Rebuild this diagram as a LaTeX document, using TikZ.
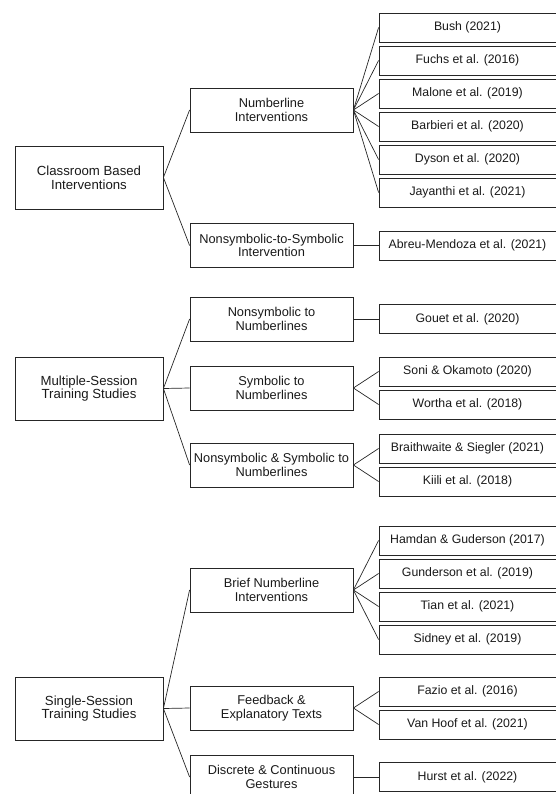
\documentclass[tikz,border=0pt]{standalone}
\usepackage{fontspec}
\setmainfont{Liberation Sans}
\begin{document}
\begin{tikzpicture}[x=1pt,y=-1pt,
  box/.style={draw=black!85,line width=0.8pt,rectangle,inner sep=0pt,align=center,text=black!90},
  lvlone/.style={box,minimum width=148pt,minimum height=63pt,font=\fontsize{13.2}{13.6}\selectfont},
  lvltwo/.style={box,minimum width=163pt,minimum height=44pt,font=\fontsize{12.8}{13.4}\selectfont},
  lvlthree/.style={box,minimum width=177pt,minimum height=29pt,font=\fontsize{12.3}{13}\selectfont},
  link/.style={draw=black!85,line width=0.7pt}]
\useasboundingbox (0,0) rectangle (555,794);

% level 1
\node[lvlone] (cls) at (89,177.5) {Classroom Based\\Interventions};
\node[lvlone] (mul) at (89,388.5) {Multiple-Session\\Training Studies};
\node[lvlone] (sgl) at (89,708.5) {Single-Session\\Training Studies};

% level 2
\node[lvltwo] (nli) at (271.5,110) {Numberline\\Interventions};
\node[lvltwo] (nts) at (271.5,245.5) {Nonsymbolic-to-Symbolic\\Intervention};
\node[lvltwo] (nnl) at (271.5,319) {Nonsymbolic to\\Numberlines};
\node[lvltwo] (snl) at (271.5,388) {Symbolic to\\Numberlines};
\node[lvltwo] (nsn) at (271.5,465) {Nonsymbolic \& Symbolic to\\Numberlines};
\node[lvltwo] (bni) at (271.5,590) {Brief Numberline\\Interventions};
\node[lvltwo] (fet) at (271.5,708) {Feedback \&\\Explanatory Texts};
\node[lvltwo] (dcg) at (271.5,777) {Discrete \& Continuous\\Gestures};

% level 3
\node[lvlthree] (bush) at (467.5,27.5) {Bush (2021)};
\node[lvlthree] (fuchs) at (467.5,60.5) {Fuchs et al. (2016)};
\node[lvlthree] (malone) at (467.5,93.5) {Malone et al. (2019)};
\node[lvlthree] (barb) at (467.5,126.5) {Barbieri et al. (2020)};
\node[lvlthree] (dyson) at (467.5,159.5) {Dyson et al. (2020)};
\node[lvlthree] (jay) at (467.5,192.5) {Jayanthi et al. (2021)};
\node[lvlthree] (abreu) at (467.5,245.5) {Abreu-Mendoza et al. (2021)};
\node[lvlthree] (gouet) at (467.5,319) {Gouet et al. (2020)};
\node[lvlthree] (soni) at (467.5,371.5) {Soni \& Okamoto (2020)};
\node[lvlthree] (wortha) at (467.5,404.5) {Wortha et al. (2018)};
\node[lvlthree] (braith) at (467.5,448.5) {Braithwaite \& Siegler (2021)};
\node[lvlthree] (kiili) at (467.5,481.5) {Kiili et al. (2018)};
\node[lvlthree] (hamdan) at (467.5,540.5) {Hamdan \& Guderson (2017)};
\node[lvlthree] (gund) at (467.5,573.5) {Gunderson et al. (2019)};
\node[lvlthree] (tian) at (467.5,606.5) {Tian et al. (2021)};
\node[lvlthree] (sidney) at (467.5,639.5) {Sidney et al. (2019)};
\node[lvlthree] (fazio) at (467.5,691.5) {Fazio et al. (2016)};
\node[lvlthree] (vanhoof) at (467.5,724.5) {Van Hoof et al. (2021)};
\node[lvlthree] (hurst) at (467.5,777) {Hurst et al. (2022)};

% connectors level 1 -> 2
\foreach \c in {nli,nts} \draw[link] (cls.east) -- (\c.west);
\foreach \c in {nnl,snl,nsn} \draw[link] (mul.east) -- (\c.west);
\foreach \c in {bni,fet,dcg} \draw[link] (sgl.east) -- (\c.west);

% connectors level 2 -> 3
\foreach \c in {bush,fuchs,malone,barb,dyson,jay} \draw[link] (nli.east) -- (\c.west);
\draw[link] (nts.east) -- (abreu.west);
\draw[link] (nnl.east) -- (gouet.west);
\foreach \c in {soni,wortha} \draw[link] (snl.east) -- (\c.west);
\foreach \c in {braith,kiili} \draw[link] (nsn.east) -- (\c.west);
\foreach \c in {hamdan,gund,tian,sidney} \draw[link] (bni.east) -- (\c.west);
\foreach \c in {fazio,vanhoof} \draw[link] (fet.east) -- (\c.west);
\draw[link] (dcg.east) -- (hurst.west);
\end{tikzpicture}
\end{document}
